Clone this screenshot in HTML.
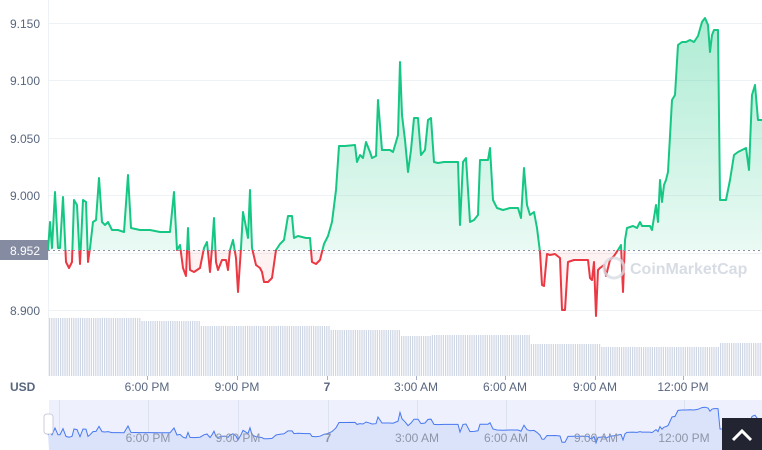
<!DOCTYPE html>
<html><head><meta charset="utf-8"><style>
body{margin:0;background:#fff;width:762px;height:450px;overflow:hidden;font-family:"Liberation Sans",sans-serif}
</style></head><body>
<svg id="s" width="762" height="450" xmlns="http://www.w3.org/2000/svg" style="position:absolute;left:0;top:0">
<defs>
<linearGradient id="gg" x1="0" y1="0" x2="0" y2="1"><stop offset="0" stop-color="#16c784" stop-opacity="0.35"/><stop offset="1" stop-color="#16c784" stop-opacity="0.02"/></linearGradient>
<linearGradient id="rg" x1="0" y1="0" x2="0" y2="1"><stop offset="0" stop-color="#ea3943" stop-opacity="0.01"/><stop offset="1" stop-color="#ea3943" stop-opacity="0.08"/></linearGradient>
<clipPath id="top"><rect x="0" y="0" width="762" height="250"/></clipPath>
<clipPath id="bot"><rect x="0" y="250" width="762" height="100"/></clipPath>
</defs>
<g stroke="#eff2f5" stroke-width="1">
<line x1="48" y1="23.5" x2="762" y2="23.5"/><line x1="48" y1="80.5" x2="762" y2="80.5"/><line x1="48" y1="138.5" x2="762" y2="138.5"/><line x1="48" y1="195.5" x2="762" y2="195.5"/><line x1="48" y1="253.5" x2="762" y2="253.5"/><line x1="48" y1="310.5" x2="762" y2="310.5"/>
<line x1="48.5" y1="0" x2="48.5" y2="376"/>
</g>
<g id="vol" fill="#cfd6e4"></g>
<g id="main"></g>
<line x1="48" y1="250.5" x2="762" y2="250.5" stroke="#8a92a6" stroke-dasharray="2,3" stroke-width="1"/>
<g font-size="12" fill="#58667e" text-anchor="end">
<text x="40" y="28">9.150</text><text x="40" y="85">9.100</text><text x="40" y="143">9.050</text><text x="40" y="200">9.000</text><text x="40" y="315">8.900</text>
</g>
<rect x="0" y="240" width="48" height="20" fill="#858ca2"/>
<text x="40" y="255" font-size="12" fill="#fff" text-anchor="end">8.952</text>
<g fill="none" stroke="#d8dce4" stroke-width="3" opacity="0.8"><circle cx="614" cy="268" r="10"/></g>
<text x="630" y="274" font-size="16" font-weight="bold" fill="#d8dce4">CoinMarketCap</text>
<g stroke="#a6b0c3"><line x1="147.5" y1="376" x2="147.5" y2="380"/><line x1="237.5" y1="376" x2="237.5" y2="380"/><line x1="327.5" y1="376" x2="327.5" y2="380"/><line x1="416.5" y1="376" x2="416.5" y2="380"/><line x1="505.5" y1="376" x2="505.5" y2="380"/><line x1="595.5" y1="376" x2="595.5" y2="380"/><line x1="683.5" y1="376" x2="683.5" y2="380"/></g>
<g font-size="12" fill="#58667e" text-anchor="middle">
<text x="147" y="391">6:00 PM</text><text x="237" y="391">9:00 PM</text><text x="327" y="391" font-weight="bold">7</text><text x="416" y="391">3:00 AM</text><text x="505" y="391">6:00 AM</text><text x="595" y="391">9:00 AM</text><text x="683" y="391">12:00 PM</text>
</g>
<text x="10" y="391" font-size="12" font-weight="bold" fill="#58667e">USD</text>
<rect x="49" y="400" width="713" height="50" fill="#eef1fd"/>
<g stroke="#dde2f0"><line x1="59.5" y1="400" x2="59.5" y2="450"/><line x1="148.5" y1="400" x2="148.5" y2="450"/><line x1="238.5" y1="400" x2="238.5" y2="450"/><line x1="328.5" y1="400" x2="328.5" y2="450"/><line x1="417.5" y1="400" x2="417.5" y2="450"/><line x1="506.5" y1="400" x2="506.5" y2="450"/><line x1="595.5" y1="400" x2="595.5" y2="450"/><line x1="684.5" y1="400" x2="684.5" y2="450"/></g>
<g id="nav"></g>
<g font-size="12" fill="#8d95a8" text-anchor="middle">
<text x="148" y="442">6:00 PM</text><text x="238" y="442">9:00 PM</text><text x="328" y="442" font-weight="bold">7</text><text x="417" y="442">3:00 AM</text><text x="506" y="442">6:00 AM</text><text x="596" y="442">9:00 AM</text><text x="684" y="442">12:00 PM</text>
</g>
<rect x="44" y="414" width="9" height="20" rx="3" fill="#fff" stroke="#ccd"/>
<rect x="722" y="418" width="40" height="32" fill="#222531"/>
<polyline points="733,440 742,431 751,440" fill="none" stroke="#fff" stroke-width="3"/>
</svg>
<script>
var P=[48,250,50,222,52,248,55,192,58,248,60,248,63,197,66,262,69,268,72,262,74,200,77,205,80,264,83,200,86,202,88,262,90,248,93,222,96,220,99,178,102,222,105,225,108,222,112,230,118,230,124,232,128,175,131,228,140,230,150,230,160,232,170,232,174,192,177,250,180,245,183,268,186,276,188,228,190,270,194,272,200,268,204,248,207,242,210,272,212,248,214,218,216,262,218,270,222,260,226,260,228,270,230,250,233,240,236,258,238,292,241,248,243,212,245,222,248,238,250,190,252,248,256,265,260,268,262,272,264,282,268,282,272,278,276,250,280,244,284,240,288,216,292,216,294,238,298,236,306,238,310,238,312,262,316,264,320,260,324,244,328,236,332,222,336,190,339,146,345,146,355,145,357,162,360,155,363,158,366,142,370,152,372,158,376,156,378,100,382,150,386,150,390,150,393,152,396,142,398,135,400,62,402,115,405,140,408,172,411,150,414,118,418,118,421,155,425,150,428,120,431,118,434,162,438,163,444,162,448,162,458,162,460,225,463,162,466,158,468,190,470,222,474,220,478,215,480,160,484,160,488,160,490,148,493,200,497,208,503,210,510,208,518,208,521,218,524,168,527,205,530,215,534,212,537,228,540,252,542,285,544,286,547,254,550,255,555,254,560,258,562,310,565,310,568,262,574,260,578,260,581,260,588,260,590,278,592,280,594,262,596,316,598,270,600,268,604,265,606,276,610,260,614,256,618,250,621,245,623,292,625,240,627,228,633,226,637,228,640,222,642,226,650,226,652,230,656,205,658,222,660,180,662,202,664,185,666,180,668,172,672,100,675,95,678,45,682,42,686,42,690,40,694,42,698,36,702,22,705,18,708,25,710,52,712,35,714,30,718,30,720,200,726,200,730,180,734,155,738,152,742,150,746,148,749,170,752,95,755,85,758,120,762,120];
var pts=[];for(var i=0;i<P.length;i+=2)pts.push(P[i]+','+P[i+1]);
var line=pts.join(' '),area='48,250 '+line+' 762,250';
document.getElementById('main').innerHTML=
'<polygon points="'+area+'" fill="url(#gg)" clip-path="url(#top)"/>'+
'<polygon points="'+area+'" fill="url(#rg)" clip-path="url(#bot)"/>'+
'<polyline points="'+line+'" fill="none" stroke="#16c784" stroke-width="2" stroke-linejoin="round" clip-path="url(#top)"/>'+
'<polyline points="'+line+'" fill="none" stroke="#ea3943" stroke-width="2" stroke-linejoin="round" clip-path="url(#bot)"/>';
var v='';
function vt(x){if(x<140)return 318;if(x<200)return 321;if(x<330)return 326;if(x<400)return 330;if(x<430)return 336;if(x<530)return 335;if(x<600)return 344;if(x<720)return 347;return 343;}
for(var x=49;x<762;x+=2.2){var t=vt(x);v+='<rect x="'+x.toFixed(1)+'" y="'+t+'" width="1.2" height="'+(376-t)+'"/>';}
document.getElementById('vol').innerHTML=v;
var n=[];for(var i=0;i<P.length;i+=2){n.push(P[i]+','+(405+P[i+1]*0.12).toFixed(1));}
document.getElementById('nav').innerHTML='<polygon points="49,450 '+n.join(' ')+' 762,450" fill="#dbe3fb"/><polyline points="'+n.join(' ')+'" fill="none" stroke="#4878f0" stroke-width="1"/>';
</script>
</body></html>
